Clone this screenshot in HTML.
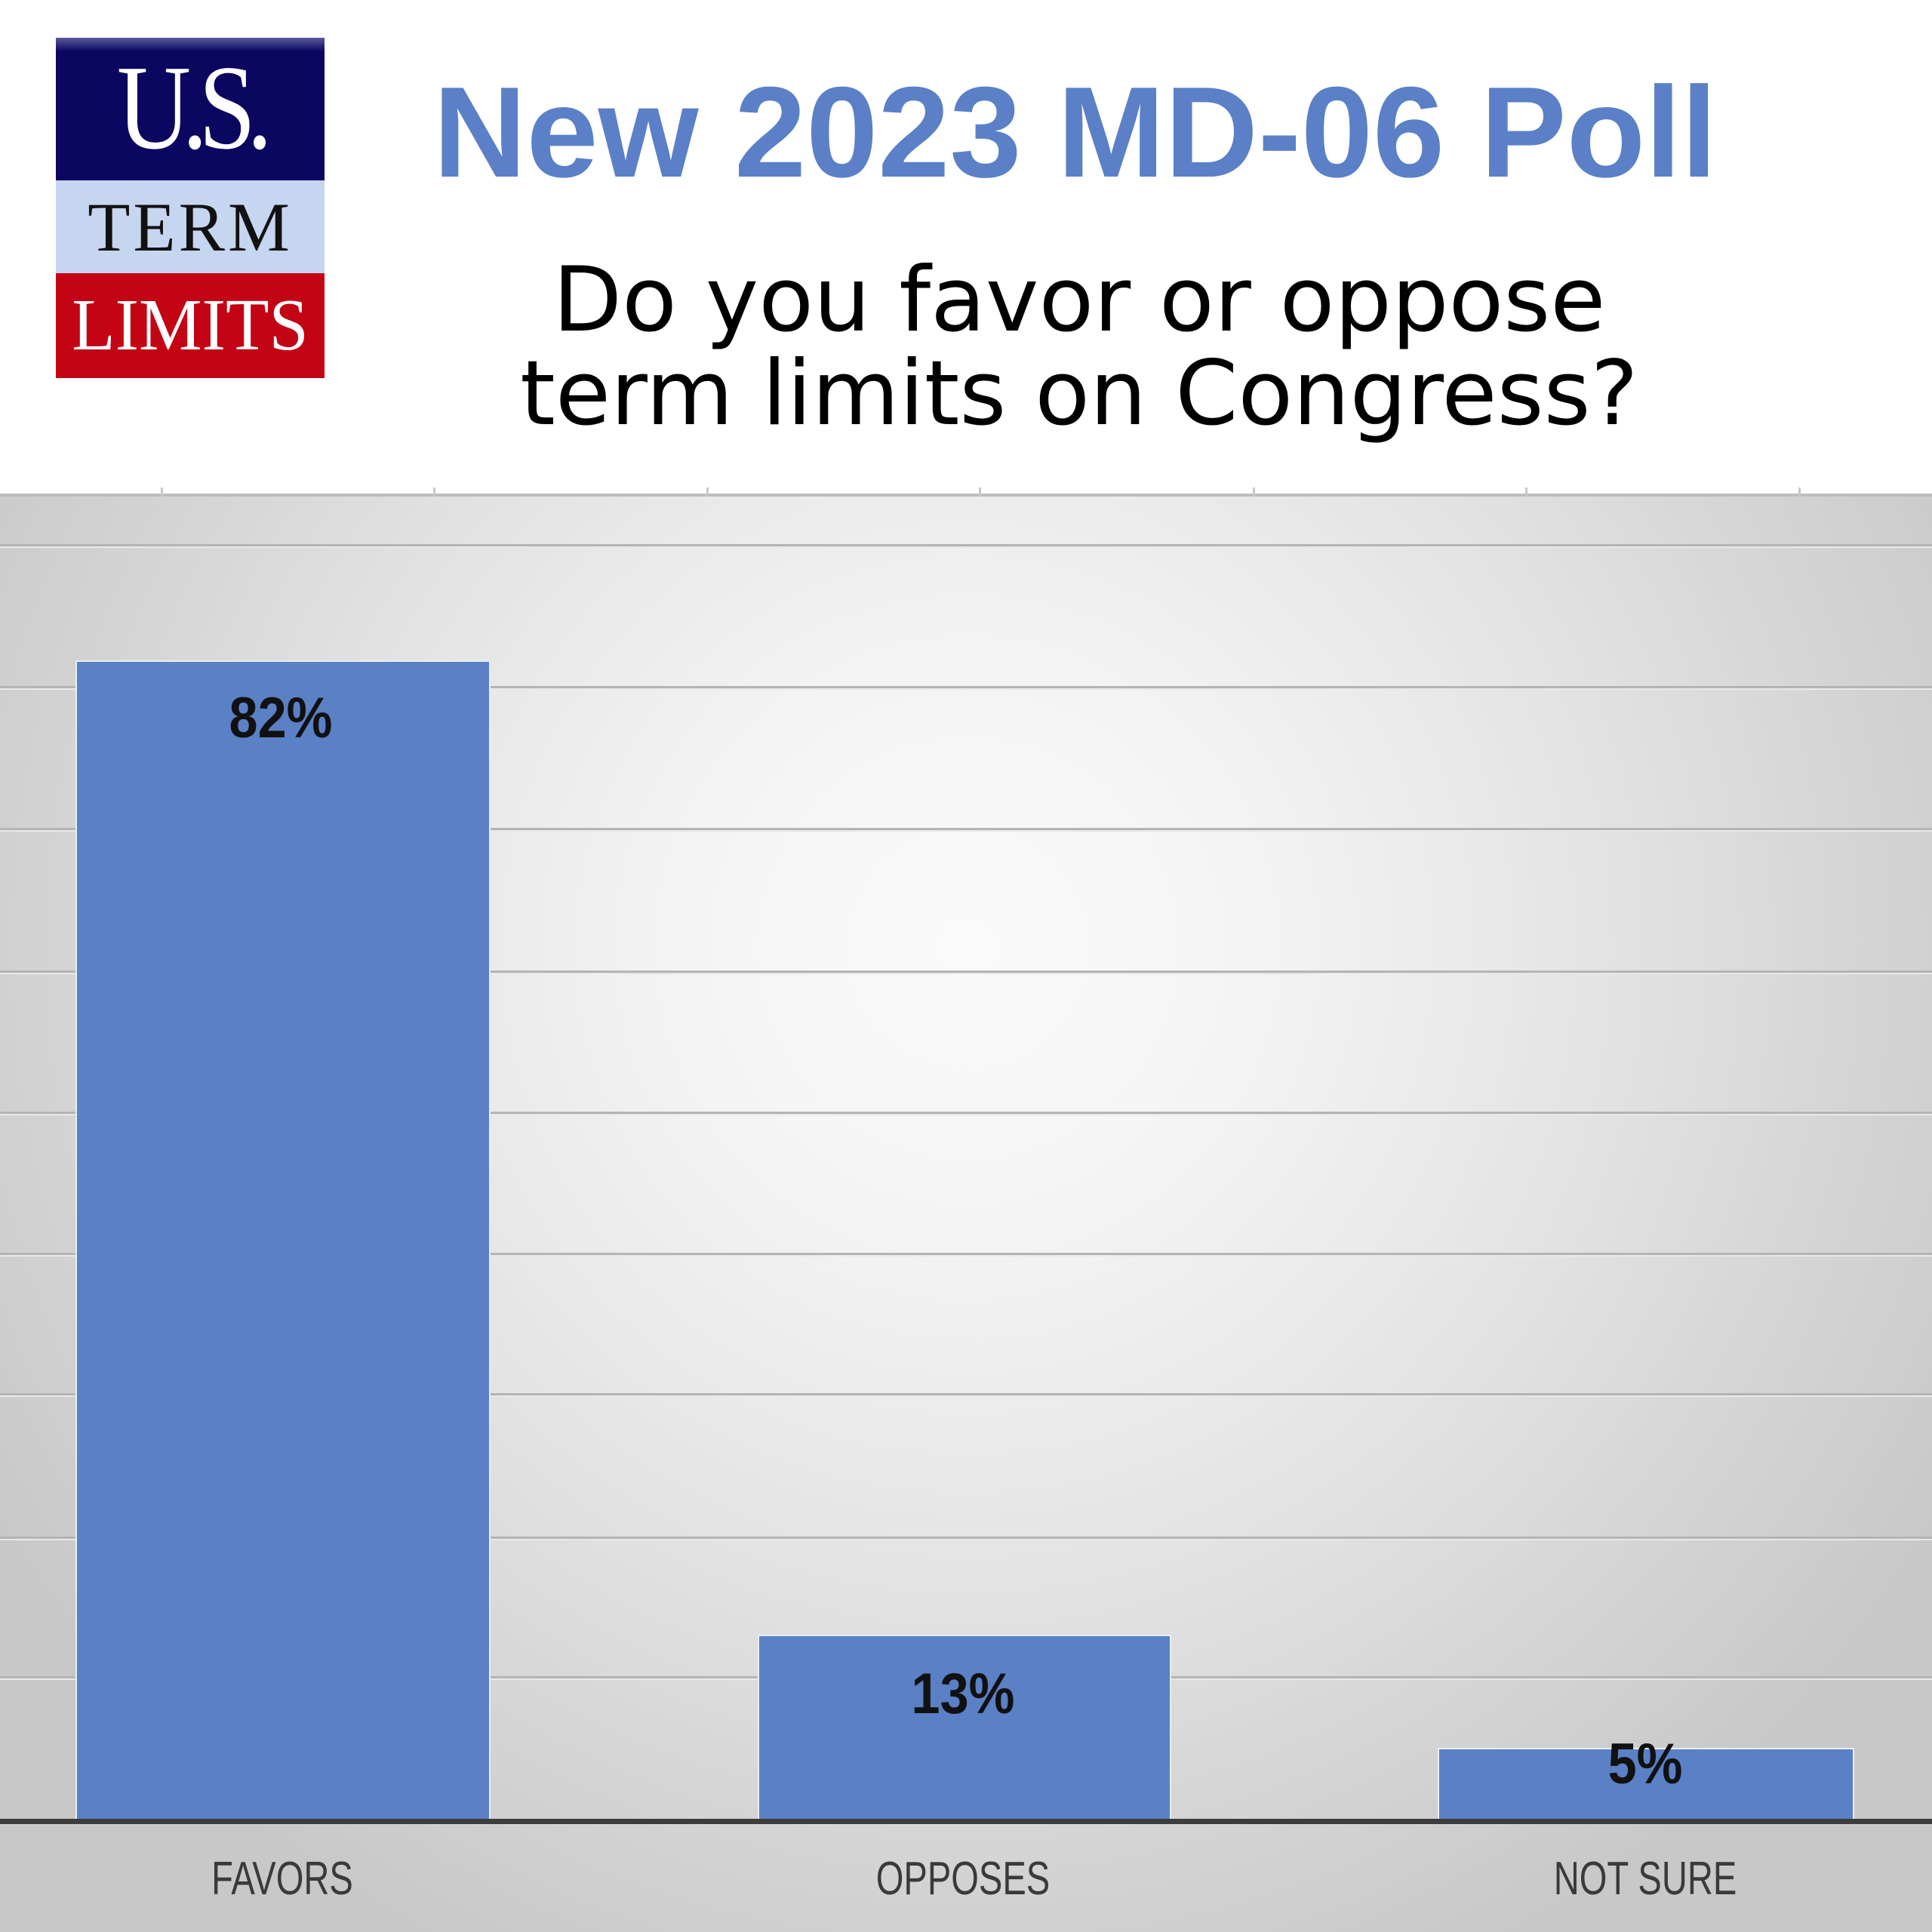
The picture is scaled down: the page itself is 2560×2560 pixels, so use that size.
<!DOCTYPE html>
<html><head><meta charset="utf-8">
<style>
html,body{margin:0;padding:0;width:2560px;height:2560px;overflow:hidden;background:#fff;}
.abs{position:absolute;}
.lbl{position:absolute;font-family:"Liberation Sans",sans-serif;font-weight:bold;font-size:76px;color:#111;transform:translateX(-50%) scaleX(0.9);white-space:nowrap;line-height:1;}
.cat{position:absolute;font-family:"Liberation Sans",sans-serif;font-size:62px;color:#3a3a3a;transform:translateX(-50%) scaleX(0.76);white-space:nowrap;line-height:1;}
.grid{position:absolute;left:0;width:2560px;height:3px;background:#b4b4b4;border-bottom:2px solid rgba(255,255,255,0.7);}
.bar{position:absolute;background:#5a80c6;border:2px solid #e8eef8;border-bottom:none;}
.tick{position:absolute;top:646px;width:3px;height:12px;background:#c8c8c8;}
</style></head><body>
<div class="abs" style="left:0;top:656px;width:2560px;height:1904px;background:radial-gradient(ellipse 1500px 1500px at 1282px 600px,#fafafa 0%,#f4f4f4 25%,#e4e4e4 55%,#d4d4d4 80%,#c8c8c8 100%);"></div>
<div class="abs" style="left:0;top:654px;width:2560px;height:4px;background:#bdbdbd;"></div>
<div class="tick" style="left:213px"></div><div class="tick" style="left:574px"></div><div class="tick" style="left:936px"></div><div class="tick" style="left:1297px"></div><div class="tick" style="left:1660px"></div><div class="tick" style="left:2021px"></div><div class="tick" style="left:2383px"></div>
<div class="grid" style="top:721px"></div>
<div class="grid" style="top:909px"></div>
<div class="grid" style="top:1097px"></div>
<div class="grid" style="top:1286px"></div>
<div class="grid" style="top:1473px"></div>
<div class="grid" style="top:1660px"></div>
<div class="grid" style="top:1846px"></div>
<div class="grid" style="top:2036px"></div>
<div class="grid" style="top:2221px"></div>
<div class="bar" style="left:100px;top:875px;width:546px;height:1537px;"></div>
<div class="bar" style="left:1004px;top:2166px;width:544px;height:246px;"></div>
<div class="bar" style="left:1905px;top:2316px;width:548px;height:96px;"></div>
<div class="abs" style="left:0;top:2410px;width:2560px;height:7px;background:#3c3c3c;"></div>
<div class="lbl" style="left:372px;top:914px;">82%</div>
<div class="lbl" style="left:1276px;top:2207px;">13%</div>
<div class="lbl" style="left:2180px;top:2300px;">5%</div>
<div class="cat" style="left:374px;top:2459px;">FAVORS</div>
<div class="cat" style="left:1276px;top:2459px;">OPPOSES</div>
<div class="cat" style="left:2180px;top:2459px;">NOT SURE</div>

<!-- logo -->
<div class="abs" style="left:74px;top:50px;width:356px;height:189px;background:linear-gradient(#5a5aa0 0,#0b0660 18px,#0b0660 100%);"></div>
<div class="abs" style="left:74px;top:239px;width:356px;height:123px;background:#c6d5f0;"></div>
<div class="abs" style="left:74px;top:362px;width:356px;height:139px;background:#c30414;"></div>
<div class="abs" style="left:74px;top:62px;width:356px;text-align:center;font-family:'Liberation Serif',serif;font-size:160px;color:#fff;line-height:1;letter-spacing:-14px;transform:scaleX(0.85);">U.S.</div>
<div class="abs" style="left:74px;top:255px;width:356px;text-align:center;font-family:'Liberation Serif',serif;font-size:92px;color:#111;line-height:1;letter-spacing:4px;">TERM</div>
<div class="abs" style="left:74px;top:382px;width:356px;text-align:center;font-family:'Liberation Serif',serif;font-size:98px;color:#fff;line-height:1;letter-spacing:0px;transform:scaleX(0.96);">LIMITS</div>

<div class="abs" style="left:574px;top:90px;width:1720px;font-family:'Liberation Sans',sans-serif;font-weight:bold;font-size:171px;color:#5b80c8;line-height:1;white-space:nowrap;">New 2023 MD-06 Poll</div>
<div class="abs" style="left:430px;top:336px;width:2000px;text-align:center;font-family:'DejaVu Sans',sans-serif;font-size:119px;color:#000;line-height:124px;">Do you favor or oppose<br>term limits on Congress?</div>
</body></html>
